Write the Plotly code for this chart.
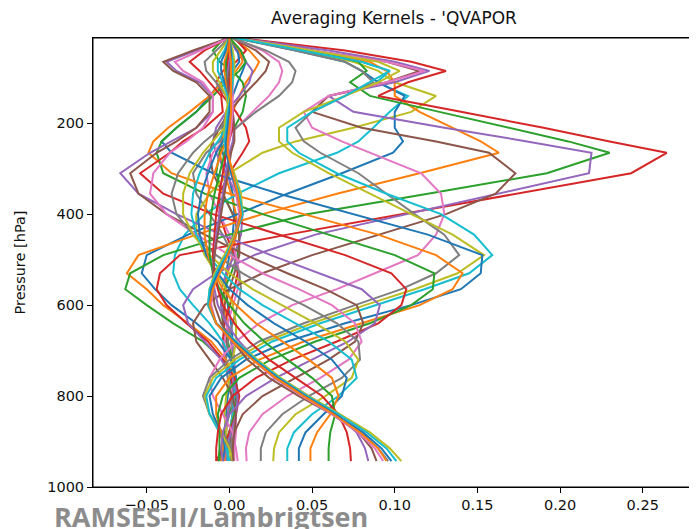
import plotly.graph_objects as go

# Pressure levels (hPa) shared by every kernel row
PRESSURE = [12, 40, 65, 85, 110, 140, 175, 210, 240, 265, 310, 355, 400, 445,
            490, 530, 565, 600, 640, 680, 720, 760, 800, 840, 880, 915, 943]

ak_00 = [0.000, 0.006, 0.010, 0.008, 0.005, 0.002, -0.002, -0.004, -0.005, -0.004, -0.001, 0.002, 0.003, 0.002, 0.000, -0.002, -0.002, -0.001, 0.001, 0.002, 0.002, 0.001, -0.001, -0.002, -0.003, -0.003, -0.003]
ak_01 = [0.002, 0.012, 0.018, 0.015, 0.010, 0.006, 0.002, -0.002, -0.005, -0.006, -0.003, 0.001, 0.004, 0.004, 0.002, -0.001, -0.003, -0.003, -0.001, 0.001, 0.003, 0.003, 0.001, -0.001, -0.002, -0.003, -0.003]
ak_02 = [-0.003, -0.010, -0.006, 0.002, 0.008, 0.010, 0.008, 0.003, -0.002, -0.006, -0.008, -0.004, 0.002, 0.006, 0.005, 0.001, -0.003, -0.005, -0.004, -0.001, 0.002, 0.004, 0.003, 0.000, -0.003, -0.005, -0.006]
ak_03 = [0.003, 0.010, 0.004, -0.004, -0.008, -0.004, 0.004, 0.010, 0.012, 0.008, 0.000, -0.006, -0.006, -0.002, 0.003, 0.005, 0.003, 0.000, -0.003, -0.004, -0.002, 0.001, 0.003, 0.002, 0.000, -0.003, -0.007]
ak_04 = [0.000, 0.004, 0.010, 0.014, 0.012, 0.006, -0.002, -0.008, -0.010, -0.008, -0.002, 0.004, 0.008, 0.007, 0.003, -0.002, -0.005, -0.005, -0.002, 0.001, 0.003, 0.003, 0.001, -0.001, -0.002, -0.002, -0.002]
ak_05 = [0.001, 0.016, 0.024, 0.022, 0.016, 0.008, 0.000, -0.006, -0.010, -0.012, -0.010, -0.004, 0.002, 0.006, 0.006, 0.003, 0.000, -0.003, -0.004, -0.002, 0.001, 0.003, 0.004, 0.003, 0.001, 0.000, 0.002]
ak_06 = [0.002, 0.020, 0.030, 0.032, 0.030, 0.024, 0.014, 0.004, -0.004, -0.010, -0.014, -0.012, -0.006, 0.000, 0.004, 0.006, 0.005, 0.002, -0.001, -0.003, -0.003, -0.001, 0.002, 0.004, 0.004, 0.003, 0.003]
ak_07 = [0.001, 0.022, 0.036, 0.040, 0.038, 0.030, 0.016, 0.004, -0.006, -0.014, -0.022, -0.020, -0.012, -0.004, 0.002, 0.006, 0.007, 0.005, 0.002, -0.001, -0.002, -0.001, 0.001, 0.002, 0.002, 0.001, 0.001]
ak_08 = [0.003, 0.040, 0.075, 0.090, 0.100, 0.125, 0.110, 0.075, 0.040, 0.020, 0.000, -0.012, -0.020, -0.020, -0.015, -0.008, -0.002, 0.002, 0.004, 0.004, 0.002, 0.000, -0.002, -0.003, -0.002, -0.001, 0.000]
ak_09 = [0.003, 0.045, 0.080, 0.097, 0.089, 0.108, 0.097, 0.087, 0.078, 0.065, 0.030, 0.005, -0.015, -0.027, -0.033, -0.034, -0.030, -0.022, -0.012, -0.004, 0.001, 0.003, 0.003, 0.002, 0.000, -0.001, -0.001]
ak_10 = [0.003, 0.040, 0.070, 0.080, 0.090, 0.106, 0.100, 0.100, 0.105, 0.099, 0.068, 0.035, 0.005, -0.025, -0.050, -0.053, -0.045, -0.035, -0.020, -0.007, 0.001, 0.004, 0.005, 0.003, 0.000, -0.002, -0.004]
ak_11 = [0.004, 0.050, 0.085, 0.095, 0.100, 0.100, 0.115, 0.135, 0.152, 0.163, 0.115, 0.065, 0.020, -0.020, -0.055, -0.062, -0.050, -0.040, -0.025, -0.011, -0.002, 0.003, 0.005, 0.003, 0.000, -0.002, -0.003]
ak_12 = [0.005, 0.050, 0.078, 0.083, 0.073, 0.085, 0.127, 0.170, 0.205, 0.230, 0.192, 0.120, 0.047, 0.000, -0.040, -0.060, -0.063, -0.050, -0.034, -0.016, -0.004, 0.003, 0.005, 0.003, 0.000, -0.004, -0.006]
ak_13 = [0.005, 0.070, 0.110, 0.131, 0.108, 0.090, 0.140, 0.190, 0.230, 0.2645, 0.243, 0.174, 0.105, 0.035, -0.030, -0.042, -0.044, -0.038, -0.026, -0.013, -0.004, 0.003, 0.006, 0.004, 0.000, -0.004, -0.008]
ak_14 = [0.004, 0.060, 0.100, 0.121, 0.100, 0.060, 0.075, 0.130, 0.180, 0.219, 0.2175, 0.163, 0.107, 0.052, 0.015, -0.008, -0.022, -0.028, -0.025, -0.015, -0.005, 0.002, 0.005, 0.004, 0.001, -0.002, -0.004]
ak_15 = [0.003, 0.050, 0.095, 0.115, 0.095, 0.060, 0.050, 0.080, 0.125, 0.157, 0.173, 0.161, 0.131, 0.090, 0.050, 0.020, 0.000, -0.015, -0.022, -0.020, -0.012, -0.004, 0.002, 0.004, 0.003, 0.002, 0.002]
ak_16 = [0.003, 0.050, 0.095, 0.118, 0.095, 0.060, 0.045, 0.050, 0.068, 0.085, 0.116, 0.128, 0.130, 0.125, 0.114, 0.088, 0.065, 0.038, 0.018, 0.004, -0.006, -0.012, -0.010, -0.004, 0.002, 0.004, 0.005]
ak_17 = [0.002, 0.040, 0.070, 0.080, 0.087, 0.070, 0.050, 0.040, 0.045, 0.055, 0.078, 0.095, 0.112, 0.130, 0.139, 0.125, 0.104, 0.076, 0.045, 0.018, 0.000, -0.012, -0.016, -0.012, -0.004, 0.001, 0.002]
ak_18 = [0.003, 0.050, 0.090, 0.103, 0.090, 0.070, 0.045, 0.030, 0.030, 0.038, 0.060, 0.085, 0.110, 0.135, 0.154, 0.138, 0.112, 0.082, 0.050, 0.022, 0.003, -0.010, -0.015, -0.012, -0.005, 0.000, 0.002]
ak_19 = [0.003, 0.045, 0.080, 0.097, 0.085, 0.070, 0.050, 0.035, 0.035, 0.042, 0.065, 0.095, 0.128, 0.148, 0.159, 0.145, 0.118, 0.088, 0.055, 0.026, 0.006, -0.008, -0.014, -0.012, -0.006, -0.002, 0.000]
ak_20 = [0.000, 0.005, 0.006, 0.002, -0.005, -0.012, -0.020, -0.032, -0.041, -0.035, -0.010, 0.030, 0.075, 0.120, 0.153, 0.152, 0.140, 0.110, 0.070, 0.035, 0.010, -0.005, -0.012, -0.010, -0.005, -0.003, -0.004]
ak_21 = [0.000, 0.006, 0.008, 0.004, -0.004, -0.012, -0.024, -0.037, -0.046, -0.049, -0.035, 0.000, 0.045, 0.090, 0.125, 0.141, 0.135, 0.115, 0.080, 0.045, 0.018, 0.000, -0.008, -0.008, -0.005, -0.004, -0.005]
ak_22 = [0.000, 0.007, 0.010, 0.006, -0.002, -0.010, -0.020, -0.032, -0.041, -0.044, -0.040, -0.015, 0.020, 0.060, 0.100, 0.124, 0.123, 0.110, 0.085, 0.052, 0.025, 0.006, -0.004, -0.007, -0.006, -0.006, -0.0066]
ak_23 = [0.000, -0.015, -0.024, -0.018, -0.012, -0.005, -0.004, -0.015, -0.028, -0.036, -0.054, -0.040, -0.010, 0.030, 0.070, 0.098, 0.107, 0.104, 0.090, 0.065, 0.038, 0.016, 0.002, -0.005, -0.007, -0.008, -0.008]
ak_24 = [0.000, -0.020, -0.038, -0.032, -0.018, -0.010, -0.010, -0.020, -0.035, -0.048, -0.066, -0.055, -0.032, -0.005, 0.025, 0.055, 0.080, 0.091, 0.088, 0.072, 0.050, 0.028, 0.010, 0.000, -0.004, -0.005, -0.004]
ak_25 = [0.000, -0.022, -0.040, -0.034, -0.020, -0.012, -0.012, -0.020, -0.032, -0.044, -0.060, -0.055, -0.038, -0.015, 0.010, 0.035, 0.058, 0.077, 0.081, 0.076, 0.060, 0.040, 0.020, 0.008, 0.003, 0.002, 0.0024]
ak_26 = [0.000, -0.018, -0.033, -0.028, -0.016, -0.010, -0.010, -0.016, -0.026, -0.036, -0.046, -0.048, -0.038, -0.020, 0.000, 0.020, 0.042, 0.062, 0.076, 0.080, 0.072, 0.055, 0.035, 0.020, 0.012, 0.010, 0.0104]
ak_27 = [0.000, -0.008, -0.015, -0.014, -0.008, -0.002, 0.000, -0.005, -0.015, -0.022, -0.031, -0.035, -0.032, -0.022, -0.008, 0.008, 0.025, 0.045, 0.065, 0.078, 0.079, 0.068, 0.048, 0.032, 0.022, 0.019, 0.019]
ak_28 = [0.000, -0.005, -0.010, -0.010, -0.006, -0.002, 0.000, -0.003, -0.010, -0.016, -0.024, -0.028, -0.028, -0.022, -0.012, 0.000, 0.014, 0.032, 0.052, 0.070, 0.078, 0.074, 0.058, 0.040, 0.030, 0.027, 0.0265]
ak_29 = [0.000, -0.003, -0.007, -0.007, -0.004, -0.001, 0.000, -0.002, -0.007, -0.012, -0.018, -0.022, -0.023, -0.020, -0.013, -0.004, 0.006, 0.020, 0.040, 0.060, 0.074, 0.077, 0.066, 0.050, 0.039, 0.035, 0.035]
ak_30 = [0.000, -0.002, -0.005, -0.005, -0.003, 0.000, 0.001, 0.000, -0.004, -0.008, -0.013, -0.017, -0.019, -0.018, -0.014, -0.007, 0.000, 0.011, 0.027, 0.046, 0.062, 0.071, 0.068, 0.057, 0.046, 0.042, 0.042]
ak_31 = [0.000, -0.001, -0.003, -0.003, -0.002, 0.000, 0.001, 0.001, -0.002, -0.005, -0.009, -0.013, -0.015, -0.015, -0.013, -0.009, -0.004, 0.004, 0.016, 0.032, 0.048, 0.062, 0.066, 0.061, 0.053, 0.049, 0.049]
ak_32 = [0.000, 0.000, -0.002, -0.002, -0.001, 0.000, 0.001, 0.001, -0.001, -0.003, -0.006, -0.009, -0.011, -0.012, -0.012, -0.010, -0.006, 0.000, 0.009, 0.021, 0.035, 0.050, 0.062, 0.064, 0.061, 0.060, 0.060]
ak_33 = [0.000, 0.000, -0.001, -0.001, 0.000, 0.001, 0.002, 0.002, 0.000, -0.002, -0.004, -0.006, -0.008, -0.009, -0.010, -0.009, -0.007, -0.004, 0.003, 0.012, 0.024, 0.040, 0.056, 0.066, 0.071, 0.073, 0.0735]
ak_34 = [0.000, 0.001, 0.000, -0.001, -0.001, 0.000, 0.002, 0.003, 0.002, 0.000, -0.002, -0.004, -0.006, -0.008, -0.009, -0.010, -0.009, -0.007, -0.002, 0.006, 0.016, 0.030, 0.048, 0.065, 0.077, 0.082, 0.084]
ak_35 = [0.000, 0.001, 0.001, 0.000, -0.001, 0.000, 0.002, 0.003, 0.003, 0.001, -0.001, -0.003, -0.005, -0.007, -0.009, -0.010, -0.010, -0.009, -0.005, 0.002, 0.011, 0.024, 0.042, 0.062, 0.078, 0.086, 0.089]
ak_36 = [0.000, 0.001, 0.002, 0.002, 0.002, 0.002, 0.002, 0.001, 0.000, -0.001, 0.001, 0.004, 0.006, 0.003, -0.002, -0.007, -0.010, -0.011, -0.008, 0.002, 0.014, 0.027, 0.044, 0.062, 0.078, 0.088, 0.093]
ak_37 = [0.000, 0.001, 0.002, 0.002, 0.001, 0.001, 0.000, -0.001, -0.002, -0.002, 0.002, 0.006, 0.007, 0.003, -0.002, -0.008, -0.011, -0.012, -0.008, 0.003, 0.015, 0.028, 0.045, 0.064, 0.080, 0.090, 0.096]
ak_38 = [0.000, 0.002, 0.003, 0.003, 0.002, 0.000, -0.002, -0.003, -0.003, -0.002, 0.003, 0.007, 0.008, 0.003, -0.003, -0.009, -0.012, -0.013, -0.008, 0.004, 0.017, 0.031, 0.048, 0.067, 0.085, 0.097, 0.104]
ak_39 = [0.000, 0.001, 0.002, 0.002, 0.002, 0.001, -0.001, -0.002, -0.003, -0.002, 0.002, 0.006, 0.008, 0.004, -0.002, -0.008, -0.012, -0.013, -0.008, 0.004, 0.016, 0.030, 0.047, 0.066, 0.083, 0.095, 0.101]
ak_40 = [0.000, 0.001, 0.001, 0.001, 0.001, 0.001, 0.000, -0.001, -0.002, -0.002, 0.001, 0.005, 0.007, 0.004, -0.001, -0.007, -0.011, -0.012, -0.008, 0.003, 0.015, 0.029, 0.046, 0.064, 0.081, 0.092, 0.098]
ak_41 = [0.000, 0.000, 0.001, 0.001, 0.001, 0.001, 0.001, 0.000, -0.001, -0.001, 0.002, 0.005, 0.007, 0.004, -0.001, -0.006, -0.010, -0.012, -0.008, 0.002, 0.014, 0.028, 0.045, 0.063, 0.079, 0.090, 0.095]

KERNEL_ROWS = [ak_00, ak_01, ak_02, ak_03, ak_04, ak_05, ak_06, ak_07, ak_08, ak_09,
               ak_10, ak_11, ak_12, ak_13, ak_14, ak_15, ak_16, ak_17, ak_18, ak_19,
               ak_20, ak_21, ak_22, ak_23, ak_24, ak_25, ak_26, ak_27, ak_28, ak_29,
               ak_30, ak_31, ak_32, ak_33, ak_34, ak_35, ak_36, ak_37, ak_38, ak_39,
               ak_40, ak_41]

TAB10 = ["#1f77b4", "#ff7f0e", "#2ca02c", "#d62728", "#9467bd",
         "#8c564b", "#e377c2", "#7f7f7f", "#bcbd22", "#17becf"]

X_TICKS = [-0.05, 0.0, 0.05, 0.10, 0.15, 0.20, 0.25]
X_TICK_TEXT = ["\u22120.05", "0.00", "0.05", "0.10", "0.15", "0.20", "0.25"]
Y_TICKS = [200, 400, 600, 800, 1000]

fig = go.Figure()
for i, row in enumerate(KERNEL_ROWS):
    fig.add_trace(go.Scatter(x=row, y=PRESSURE, mode="lines",
                             line=dict(color=TAB10[i % 10], width=2),
                             showlegend=False, hoverinfo="skip"))

axis_common = dict(showline=True, mirror=True, linecolor="black", linewidth=1,
                   ticks="outside", ticklen=5, tickwidth=1, tickcolor="black",
                   showgrid=False, zeroline=False,
                   tickfont=dict(family="DejaVu Sans", size=14.5, color="#111111"))

# The page body has an 8px margin, so the figure is sized to fit inside the window.
fig.update_layout(
    width=689, height=521,
    margin=dict(l=85, r=3, t=30, b=42),
    paper_bgcolor="white", plot_bgcolor="white",
    xaxis=dict(range=[-0.0825, 0.281], tickvals=X_TICKS, ticktext=X_TICK_TEXT, **axis_common),
    yaxis=dict(range=[1000, 12.6], tickvals=Y_TICKS, **axis_common),
    shapes=[dict(type="rect", xref="paper", yref="paper", x0=0, y0=0, x1=1, y1=1,
                 line=dict(color="black", width=1), layer="above")],
    annotations=[
        dict(text="Averaging Kernels - 'QVAPOR", xref="paper", yref="paper",
             x=0.5, y=1.0445, xanchor="center", yanchor="middle", showarrow=False,
             font=dict(family="DejaVu Sans", size=17, color="#111111")),
        dict(text="Pressure [hPa]", xref="paper", yref="paper",
             x=-0.1215, y=0.5, xanchor="center", yanchor="middle", showarrow=False,
             textangle=-90, font=dict(family="DejaVu Sans", size=14.5, color="#111111")),
        dict(text="<b>RAMSES-II/Lambrigtsen</b>", xref="paper", yref="paper",
             x=-0.068, y=-0.066, xanchor="left", yanchor="middle", showarrow=False,
             font=dict(family="Open Sans", size=27, color="#8c8c8c")),
    ],
)

fig.write_html("out.html")
